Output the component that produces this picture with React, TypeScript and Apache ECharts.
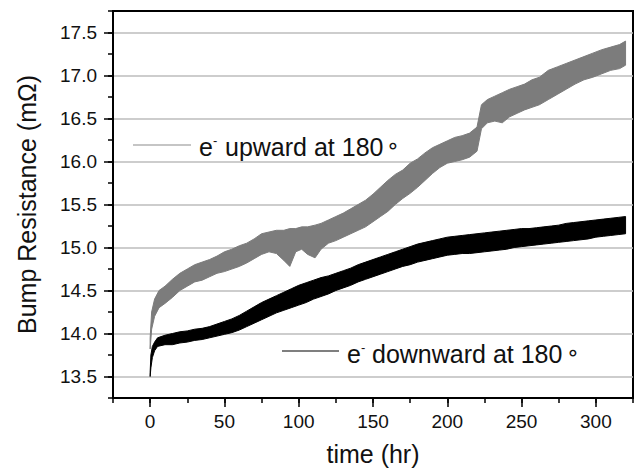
import React, { useEffect, useRef } from "react";
import * as echarts from "echarts";

// ---- data ----
const xMajorTicks = [0, 50, 100, 150, 200, 250, 300];
const yMajorTicks = [13.5, 14.0, 14.5, 15.0, 15.5, 16.0, 16.5, 17.0, 17.5];

// e- upward at 180° : time (hr), lower and upper edge of the noisy band (mΩ)
const upTime = [0, 1, 3, 6, 10, 15, 20, 25, 30, 35, 40, 45, 50, 55, 60, 65, 70, 75, 80, 85, 90, 94, 98, 102, 106, 111, 115, 120, 125, 130, 135, 140, 145, 150, 155, 160, 165, 170, 175, 180, 185, 190, 195, 200, 205, 210, 215, 220, 223, 227, 232, 237, 242, 247, 252, 257, 262, 268, 274, 280, 286, 292, 298, 304, 310, 316, 320];
const upLow = [13.82, 14.05, 14.2, 14.3, 14.35, 14.42, 14.5, 14.55, 14.6, 14.62, 14.66, 14.7, 14.72, 14.75, 14.78, 14.82, 14.87, 14.92, 14.95, 14.93, 14.85, 14.78, 14.95, 14.98, 14.92, 14.88, 14.98, 15.05, 15.08, 15.12, 15.16, 15.2, 15.24, 15.3, 15.36, 15.42, 15.5, 15.57, 15.63, 15.7, 15.78, 15.86, 15.93, 15.98, 16.0, 16.02, 16.05, 16.12, 16.38, 16.45, 16.47, 16.45, 16.52, 16.56, 16.6, 16.63, 16.66, 16.72, 16.78, 16.84, 16.9, 16.95, 16.98, 17.02, 17.06, 17.08, 17.12];
const upHigh = [13.95, 14.25, 14.4, 14.5, 14.55, 14.63, 14.7, 14.75, 14.8, 14.83, 14.86, 14.9, 14.95, 14.98, 15.02, 15.05, 15.1, 15.16, 15.18, 15.2, 15.2, 15.22, 15.22, 15.24, 15.24, 15.26, 15.28, 15.32, 15.36, 15.4, 15.45, 15.5, 15.55, 15.62, 15.7, 15.78, 15.85, 15.9, 15.98, 16.03, 16.1, 16.16, 16.2, 16.24, 16.28, 16.3, 16.33, 16.4, 16.66, 16.72, 16.76, 16.8, 16.84, 16.87, 16.9, 16.95, 16.98, 17.06, 17.1, 17.14, 17.18, 17.22, 17.26, 17.3, 17.33, 17.36, 17.4];

// e- downward at 180°
const downTime = [0, 0.5, 1.5, 3, 5, 10, 15, 20, 25, 30, 35, 40, 45, 50, 55, 60, 65, 70, 75, 80, 85, 90, 95, 100, 105, 110, 115, 120, 125, 130, 135, 140, 145, 150, 155, 160, 165, 170, 175, 180, 185, 190, 195, 200, 205, 210, 215, 220, 225, 230, 235, 240, 245, 250, 255, 260, 265, 270, 275, 280, 285, 290, 295, 300, 305, 310, 315, 320];
const downLow = [13.5, 13.6, 13.72, 13.8, 13.85, 13.87, 13.87, 13.89, 13.9, 13.92, 13.93, 13.95, 13.97, 13.99, 14.01, 14.04, 14.08, 14.12, 14.16, 14.2, 14.24, 14.27, 14.3, 14.33, 14.36, 14.4, 14.43, 14.46, 14.5, 14.53, 14.56, 14.6, 14.63, 14.66, 14.69, 14.72, 14.75, 14.78, 14.8, 14.83, 14.85, 14.87, 14.89, 14.91, 14.92, 14.93, 14.93, 14.94, 14.95, 14.96, 14.97, 14.98, 15.0, 15.01, 15.02, 15.03, 15.04, 15.05, 15.06, 15.07, 15.08, 15.09, 15.1, 15.12, 15.13, 15.14, 15.15, 15.16];
const downHigh = [13.55, 13.75, 13.85, 13.9, 13.95, 13.98, 14.0, 14.02, 14.03, 14.05, 14.06, 14.08, 14.11, 14.14, 14.17, 14.21, 14.26, 14.31, 14.36, 14.4, 14.44, 14.48, 14.52, 14.56, 14.59, 14.62, 14.65, 14.67, 14.7, 14.73, 14.76, 14.8, 14.83, 14.86, 14.89, 14.92, 14.95, 14.98, 15.01, 15.04, 15.06, 15.08, 15.1, 15.12, 15.13, 15.14, 15.15, 15.16, 15.17, 15.18, 15.19, 15.2, 15.21, 15.22, 15.22, 15.23, 15.24, 15.25, 15.26, 15.28, 15.29, 15.3, 15.31, 15.32, 15.33, 15.34, 15.35, 15.36];

const FONT = "'Liberation Sans', Arial, sans-serif";
const GRAY = "#7c7c7c";

function bandSeries(name: string, t: number[], lo: number[], hi: number[], color: string, z: number) {
  return {
    name,
    type: "custom",
    z,
    silent: true,
    clip: true,
    coordinateSystem: "cartesian2d",
    data: t.map((x, i) => [x, lo[i], hi[i]]),
    encode: { x: 0, y: [1, 2] },
    renderItem: (params: any, api: any) => {
      if (params.dataIndex !== 0) return null;
      const upper = t.map((x, i) => api.coord([x, hi[i]]));
      const lower = t.map((x, i) => api.coord([x, lo[i]])).reverse();
      return {
        type: "polygon",
        shape: { points: upper.concat(lower) },
        style: { fill: color, stroke: color, lineWidth: 1 },
      };
    },
  };
}

export default function App() {
  const ref = useRef<HTMLDivElement>(null);
  useEffect(() => {
    if (!ref.current) return;
    const chart = echarts.init(ref.current, null, { renderer: "svg" });
    const axisText = { fontSize: 19, color: "#111", fontFamily: FONT };
    chart.setOption({
      animation: false,
      backgroundColor: "#fff",
      grid: {
        left: 113,
        top: 11,
        right: 10,
        bottom: 73,
        show: true,
        borderColor: "#000",
        borderWidth: 2,
        backgroundColor: "transparent",
      },
      xAxis: [
        {
          type: "value",
          min: -25,
          max: 325,
          position: "bottom",
          name: "time (hr)",
          nameLocation: "middle",
          nameGap: 43,
          nameTextStyle: { fontSize: 25, color: "#111", fontFamily: FONT },
          axisLine: { show: true, onZero: false, lineStyle: { color: "#000", width: 2 } },
          axisTick: { show: true, inside: false, length: 9, customValues: xMajorTicks, lineStyle: { color: "#000", width: 1.5 } },
          axisLabel: { show: true, margin: 14, customValues: xMajorTicks, ...axisText },
          splitLine: { show: false },
        },
        {
          type: "value",
          min: -25,
          max: 325,
          interval: 25,
          position: "bottom",
          axisLine: { show: false, onZero: false },
          axisTick: { show: true, inside: false, length: 5, lineStyle: { color: "#000", width: 1.5 } },
          axisLabel: { show: false },
          splitLine: { show: false },
        },
      ],
      yAxis: [
        {
          type: "value",
          min: 13.25,
          max: 17.75,
          position: "left",
          name: "Bump Resistance (m\u03A9)",
          nameLocation: "middle",
          nameGap: 74,
          nameTextStyle: { fontSize: 25, color: "#111", fontFamily: FONT },
          axisLine: { show: true, onZero: false, lineStyle: { color: "#000", width: 2 } },
          axisTick: { show: true, inside: false, length: 9, customValues: yMajorTicks, lineStyle: { color: "#000", width: 1.5 } },
          axisLabel: {
            show: true,
            margin: 16,
            customValues: yMajorTicks,
            formatter: (v: number) => v.toFixed(1),
            ...axisText,
          },
          splitLine: { show: true, lineStyle: { color: "#bdbdbd", width: 1.5 } },
        },
        {
          type: "value",
          min: 13.25,
          max: 17.75,
          interval: 0.25,
          position: "left",
          axisLine: { show: false, onZero: false },
          axisTick: { show: true, inside: false, length: 5, lineStyle: { color: "#000", width: 1.5 } },
          axisLabel: { show: false },
          splitLine: { show: false },
        },
      ],
      series: [
        bandSeries("e- upward at 180°", upTime, upLow, upHigh, GRAY, 3),
        bandSeries("e- downward at 180°", downTime, downLow, downHigh, "#000", 4),
      ],
      graphic: [
        // legend: upward
        { type: "line", shape: { x1: 133, y1: 145, x2: 191, y2: 145 }, style: { stroke: "#8c8c8c", lineWidth: 1.2 }, z: 10 },
        { type: "text", x: 199, y: 147, style: { text: "e", fontSize: 25, fontFamily: FONT, fill: "#111", verticalAlign: "middle" }, z: 10 },
        { type: "text", x: 213, y: 140, style: { text: "-", fontSize: 13, fontFamily: FONT, fill: "#111", verticalAlign: "middle" }, z: 10 },
        { type: "text", x: 225, y: 147, style: { text: "upward at 180", fontSize: 25, fontFamily: FONT, fill: "#111", verticalAlign: "middle" }, z: 10 },
        { type: "text", x: 386, y: 145, style: { text: "\u2218", fontSize: 22, fontFamily: "'DejaVu Sans', sans-serif", fill: "#111", verticalAlign: "middle" }, z: 10 },
        // legend: downward
        { type: "line", shape: { x1: 282, y1: 351, x2: 339, y2: 351 }, style: { stroke: "#000", lineWidth: 1.2 }, z: 10 },
        { type: "text", x: 347, y: 354, style: { text: "e", fontSize: 25, fontFamily: FONT, fill: "#111", verticalAlign: "middle" }, z: 10 },
        { type: "text", x: 361, y: 347, style: { text: "-", fontSize: 13, fontFamily: FONT, fill: "#111", verticalAlign: "middle" }, z: 10 },
        { type: "text", x: 372, y: 354, style: { text: "downward at 180", fontSize: 25, fontFamily: FONT, fill: "#111", verticalAlign: "middle" }, z: 10 },
        { type: "text", x: 566, y: 352, style: { text: "\u2218", fontSize: 22, fontFamily: "'DejaVu Sans', sans-serif", fill: "#111", verticalAlign: "middle" }, z: 10 },
      ],
    });
    return () => chart.dispose();
  }, []);
  return <div ref={ref} style={{ width: 643, height: 471, position: "absolute", left: 0, top: 0 }} />;
}
